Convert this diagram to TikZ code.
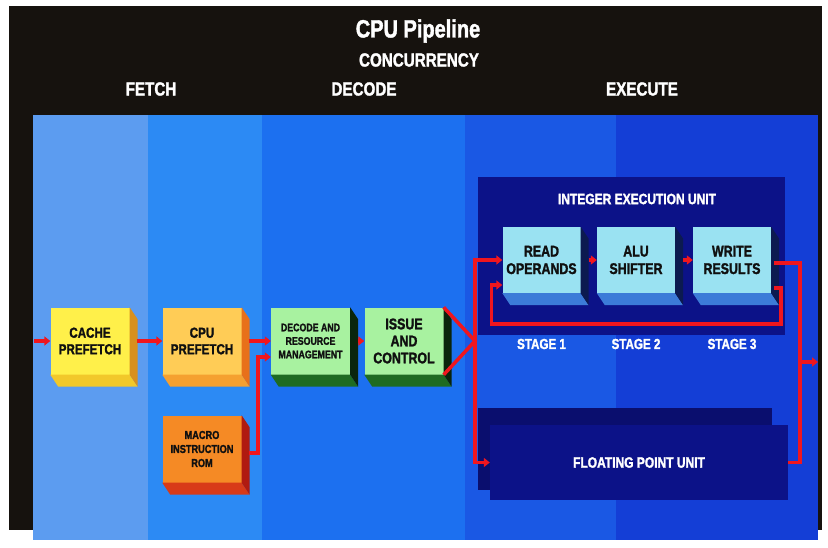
\documentclass[tikz,border=0pt]{standalone}
\usepackage{fontspec}
\setmainfont{Liberation Sans}[FakeStretch=0.8, BoldFeatures={FakeBold=1.6}]
\usetikzlibrary{arrows.meta}

\definecolor{framedark}{RGB}{22,18,14}
\definecolor{bandone}{RGB}{92,156,240}
\definecolor{bandtwo}{RGB}{44,138,244}
\definecolor{bandthree}{RGB}{28,112,240}
\definecolor{bandfour}{RGB}{26,88,228}
\definecolor{bandfive}{RGB}{20,62,214}
\definecolor{unitnavy}{RGB}{12,18,136}
\definecolor{unitshade}{RGB}{10,14,110}
\definecolor{pipered}{RGB}{240,22,30}
\definecolor{boxink}{RGB}{16,16,16}
\definecolor{cachefront}{RGB}{255,240,74}
\definecolor{cachebottom}{RGB}{242,200,42}
\definecolor{cacheside}{RGB}{216,144,30}
\definecolor{cpufront}{RGB}{255,204,86}
\definecolor{cpubottom}{RGB}{245,160,48}
\definecolor{cpuside}{RGB}{232,112,26}
\definecolor{romfront}{RGB}{245,138,37}
\definecolor{rombottom}{RGB}{216,58,24}
\definecolor{romside}{RGB}{176,26,16}
\definecolor{greenfront}{RGB}{168,242,160}
\definecolor{greenbottom}{RGB}{30,107,34}
\definecolor{greenside}{RGB}{10,37,12}
\definecolor{stagefront}{RGB}{154,226,242}
\definecolor{stagebottom}{RGB}{60,123,216}
\definecolor{stageside}{RGB}{12,26,80}

\tikzset{
  block/.style={minimum width=79pt, minimum height=67pt, inner sep=0pt,
    align=center, text=boxink, font=\fontsize{14.5}{16.5}\selectfont\bfseries},
  stagebox/.style={block, fill=stagefront, minimum width=78pt, minimum height=66pt,
    font=\fontsize{15.5}{17.5}\selectfont\bfseries},
  headtxt/.style={text=white, inner sep=0pt, font=\fontsize{19}{19}\selectfont\bfseries},
  unittxt/.style={text=white, inner sep=0pt, font=\fontsize{15}{15}\selectfont\bfseries},
  wire/.style={draw=pipered, line width=3.5pt},
  arr/.style={wire, -{Triangle[length=6pt,width=9pt]}}
}

% depth faces below and right of a block
\newcommand{\extrude}[3]{%
  \fill[#2] (#1.south west) -- (#1.south east) -- ++(8,12)
    -- ([shift={(8,12)}]#1.south west) -- cycle;
  \fill[#3] (#1.north east) -- ++(8,12)
    -- ([shift={(8,12)}]#1.south east) -- (#1.south east) -- cycle;}

\begin{document}
\begin{tikzpicture}[x=1pt,y=-1pt]
  \useasboundingbox (0,0) rectangle (828,547);
  \fill[white] (0,0) rectangle (828,547);
  \fill[framedark] (9,6) rectangle (822,530);
  % pipeline bands
  \fill[bandone] (33,115) rectangle (148,540);
  \fill[bandtwo] (148,115) rectangle (262,540);
  \fill[bandthree] (262,115) rectangle (465,540);
  \fill[bandfour] (465,115) rectangle (616,540);
  \fill[bandfive] (616,115) rectangle (818,540);

  % headings
  \node[headtxt, font=\fontsize{25}{25}\selectfont\bfseries] (title) at (418,31) {CPU Pipeline};
  \node[headtxt] (concur) at (419,60) {CONCURRENCY};
  \node[headtxt] (fetch) at (151,89) {FETCH};
  \node[headtxt] (decodehd) at (364,89) {DECODE};
  \node[headtxt] (execute) at (642,89) {EXECUTE};

  % execution units
  \fill[unitnavy] (478,177) rectangle (785,335);
  \node[unittxt] (intunit) at (637,199) {INTEGER EXECUTION UNIT};
  \fill[unitshade] (478,408) rectangle (772,490);
  \node[unittxt, fill=unitnavy, minimum width=298pt, minimum height=75pt]
    (fpu) at (639,462.5) {FLOATING POINT UNIT};

  % fetch and decode blocks
  \node[block, fill=cachefront] (cache) at (90,341) {CACHE\\PREFETCH};
  \extrude{cache}{cachebottom}{cacheside}
  \node[block, fill=cpufront] (cpu) at (202,341) {CPU\\PREFETCH};
  \extrude{cpu}{cpubottom}{cpuside}
  \node[block, fill=romfront, font=\fontsize{11.5}{14}\selectfont\bfseries]
    (rom) at (202,449) {MACRO\\INSTRUCTION\\ROM};
  \extrude{rom}{rombottom}{romside}
  \node[block, fill=greenfront, font=\fontsize{11}{13.5}\selectfont\bfseries]
    (decode) at (310.5,341) {DECODE AND\\RESOURCE\\MANAGEMENT};
  \extrude{decode}{greenbottom}{greenside}
  \node[block, fill=greenfront, font=\fontsize{15.5}{17}\selectfont\bfseries]
    (issue) at (404,341) {ISSUE\\AND\\CONTROL};
  \extrude{issue}{greenbottom}{greenside}

  % integer stages
  \node[stagebox] (read) at (541.5,260) {READ\\OPERANDS};
  \extrude{read}{stagebottom}{stageside}
  \node[stagebox] (alu) at (636,260) {ALU\\SHIFTER};
  \extrude{alu}{stagebottom}{stageside}
  \node[stagebox] (write) at (732,260) {WRITE\\RESULTS};
  \extrude{write}{stagebottom}{stageside}
  \node[unittxt, font=\fontsize{14.5}{14.5}\selectfont\bfseries] (stage1) at ([shift={(0,84)}]read.center) {STAGE 1};
  \node[unittxt, font=\fontsize{14.5}{14.5}\selectfont\bfseries] (stage2) at ([shift={(0,84)}]alu.center) {STAGE 2};
  \node[unittxt, font=\fontsize{14.5}{14.5}\selectfont\bfseries] (stage3) at ([shift={(0,84)}]write.center) {STAGE 3};

  % connectors
  \coordinate (feed) at (34,341);
  \coordinate (bus) at (475,341);
  \coordinate (outbend) at (800,362);
  \coordinate (exit) at (818,362);
  \draw[arr] (feed) -- (cache.west);
  \draw[arr] ([shift={(7,0)}]cache.east) -- (cpu.west);
  \draw[arr] ([shift={(7,0)}]cpu.east) -- (decode.west);
  \draw[arr] ([shift={(7,4)}]rom.east) -| ([shift={(-13,16)}]decode.west)
    -- ([shift={(0,16)}]decode.west);
  \draw[arr] ([shift={(8,0)}]decode.east) -- (issue.west);
  \draw[wire] (issue.north east) -- (bus) -- (issue.south east);
  \draw[arr] (bus) |- (read.west);
  \draw[arr] (bus) |- (fpu.west);
  \draw[arr] ([shift={(8,0)}]read.east) -- (alu.west);
  \draw[arr] ([shift={(8,0)}]alu.east) -- (write.west);
  \draw[arr] ([shift={(3,28)}]write.east) -| ++(7,36)
    -| ([shift={(-11,25)}]read.west) -- ([shift={(0,25)}]read.west);
  \draw[wire] ([shift={(3,3)}]write.east) -| (outbend) |- (fpu.east);
  \draw[arr] (outbend) -- (exit);
\end{tikzpicture}
\end{document}
